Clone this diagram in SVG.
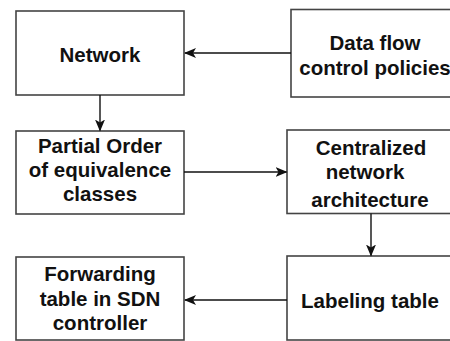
<svg xmlns="http://www.w3.org/2000/svg" width="450" height="341" viewBox="0 0 450 341">
  <style>
    .box { fill: #ffffff; stroke: #444444; stroke-width: 1.6; }
    .lbl { font-family: "Liberation Sans", Arial, sans-serif; font-weight: bold; font-size: 20.5px; fill: #111111; text-anchor: middle; }
    .link { fill: none; stroke: #111111; stroke-width: 1.4; marker-end: url(#head); }
  </style>
  <defs>
    <marker id="head" viewBox="0 0 12 10" refX="11" refY="5" markerWidth="12" markerHeight="10" markerUnits="userSpaceOnUse" orient="auto">
      <path d="M0,0 L12,5 L0,10 L3,5 Z" fill="#111111"/>
    </marker>
  </defs>
  <rect width="450" height="341" fill="#ffffff"/>

  <g id="network">
    <rect class="box" x="16" y="11" width="168" height="84"/>
    <text class="lbl" x="100" y="62">Network</text>
  </g>

  <g id="data-flow-policies">
    <rect class="box" x="291" y="9.5" width="175" height="87.5"/>
    <text class="lbl" x="375" y="50">Data flow</text>
    <text class="lbl" x="375" y="75">control policies</text>
  </g>

  <g id="partial-order">
    <rect class="box" x="16" y="131" width="168" height="83"/>
    <text class="lbl" x="100" y="153">Partial Order</text>
    <text class="lbl" x="100" y="177">of equivalence</text>
    <text class="lbl" x="100" y="201">classes</text>
  </g>

  <g id="centralized-architecture">
    <rect class="box" x="287" y="130" width="175" height="83.5"/>
    <text class="lbl" x="371" y="155">Centralized</text>
    <text class="lbl" x="365" y="179">network</text>
    <text class="lbl" x="370" y="207">architecture</text>
  </g>

  <g id="forwarding-table">
    <rect class="box" x="16" y="257" width="168" height="83"/>
    <text class="lbl" x="100" y="281">Forwarding</text>
    <text class="lbl" x="100" y="306">table in SDN</text>
    <text class="lbl" x="100" y="330">controller</text>
  </g>

  <g id="labeling-table">
    <rect class="box" x="287" y="256" width="175" height="84"/>
    <text class="lbl" x="370" y="308">Labeling table</text>
  </g>

  <g id="connectors">
    <line class="link" x1="291" y1="53" x2="185" y2="53"/>
    <line class="link" x1="100" y1="95" x2="100" y2="130.5"/>
    <line class="link" x1="184" y1="172" x2="286.5" y2="172"/>
    <line class="link" x1="371" y1="213.5" x2="371" y2="255.5"/>
    <line class="link" x1="287" y1="300" x2="185" y2="300"/>
  </g>
</svg>
